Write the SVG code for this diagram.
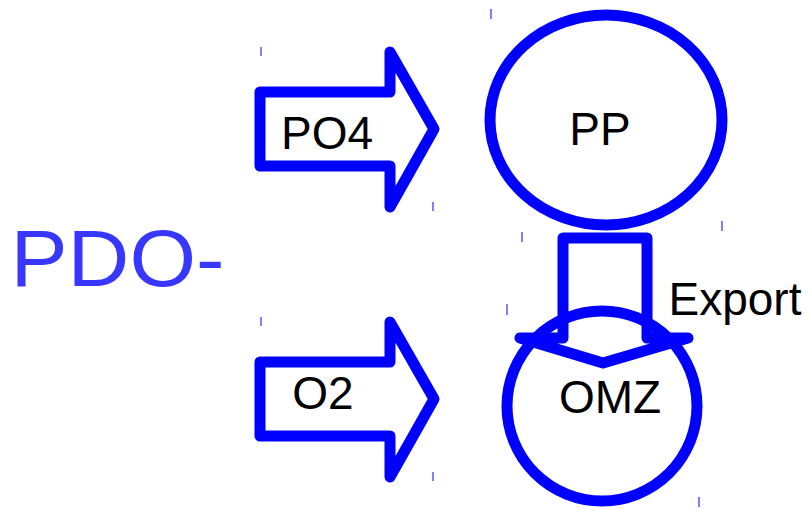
<svg xmlns="http://www.w3.org/2000/svg" width="808" height="509" viewBox="0 0 808 509">
  <style>
    .shape { fill: none; stroke: #0000ff; stroke-width: 11; stroke-linejoin: round; stroke-linecap: round; }
    .label { font-family: "Liberation Sans", Arial, sans-serif; font-size: 46px; fill: #000000; text-anchor: middle; }
    .title { font-family: "Liberation Sans", Arial, sans-serif; font-size: 80px; fill: #3737ff; }
    .tick { stroke: #5555ff; stroke-width: 1.5; }
  </style>
  <defs>
    <path id="blockArrow" d="M260,92 L390,92 L390,52 L434,129 L390,207 L390,166 L260,166 Z"/>
  </defs>

  <rect width="808" height="509" fill="#ffffff"/>

  <text class="title" transform="translate(10.5,286) scale(1.07,1)" x="0" y="0">PDO-</text>

  <g id="PO4">
    <use href="#blockArrow" class="shape"/>
    <text class="label" x="327" y="149">PO4</text>
  </g>

  <g id="O2">
    <use href="#blockArrow" class="shape" transform="translate(0,270)"/>
    <text class="label" x="323" y="409">O2</text>
  </g>

  <g id="PP">
    <ellipse class="shape" cx="606" cy="120" rx="116" ry="105"/>
    <text class="label" x="600" y="145">PP</text>
  </g>

  <g id="OMZ">
    <circle class="shape" cx="602" cy="406" r="95"/>
    <text class="label" x="610" y="413" font-size="47">OMZ</text>
  </g>

  <g id="connectors">
    <path id="Export" class="shape" d="M563,338 L563,238 L647,238 L647,338 L688,338 L603,363 L520,338 Z"/>
    <text class="label" x="735" y="315" font-size="47">Export</text>
  </g>

  <g id="handles">
    <line class="tick" x1="261" y1="47" x2="261" y2="56"/>
    <line class="tick" x1="433" y1="202" x2="433" y2="211"/>
    <line class="tick" x1="261" y1="317" x2="261" y2="326"/>
    <line class="tick" x1="433" y1="472" x2="433" y2="481"/>
    <line class="tick" x1="491" y1="9" x2="491" y2="19"/>
    <line class="tick" x1="722" y1="221" x2="722" y2="231"/>
    <line class="tick" x1="522" y1="232" x2="522" y2="242"/>
    <line class="tick" x1="507" y1="304" x2="507" y2="315"/>
    <line class="tick" x1="699" y1="497" x2="699" y2="507"/>
  </g>
</svg>
